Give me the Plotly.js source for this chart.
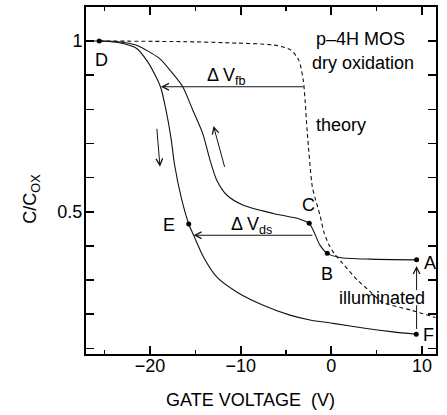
<!DOCTYPE html>
<html>
<head>
<meta charset="utf-8">
<script src="https://cdn.plot.ly/plotly-3.0.1.min.js"></script>
<style>html,body{margin:0;padding:0;background:#fff;}#chart{width:447px;height:415px;}</style>
</head>
<body>
<div id="chart"></div>
<script>
// Down sweep (D -> E -> F), gate voltage (V) and C/Cox
const downV = [-27, -25.6, -23.4, -21.5, -20.25, -19.34, -18.79, -18.24, -17.68, -17.32, -16.58, -15.73, -15.12, -14.12, -12.65, -10.44, -7.52, -4.56, -2.36, 0.21, 3.89, 6.81, 9.36];
const downC = [1.0, 1.0, 0.995, 0.979, 0.939, 0.895, 0.861, 0.798, 0.715, 0.642, 0.544, 0.464, 0.427, 0.368, 0.309, 0.265, 0.226, 0.197, 0.183, 0.173, 0.158, 0.148, 0.141];
// Up sweep (A -> B -> C -> D)
const upV = [9.4, 4.26, 0.95, -0.45, -1.26, -2.0, -2.44, -3.46, -6.41, -9.71, -11.54, -12.65, -13.38, -14.2, -15.29, -16.39, -17.5, -18.97, -21.54, -23.5, -25.6];
const upC = [0.359, 0.361, 0.366, 0.378, 0.402, 0.446, 0.466, 0.478, 0.495, 0.519, 0.549, 0.593, 0.651, 0.73, 0.798, 0.866, 0.905, 0.949, 0.988, 0.998, 1.0];
// Theory curve
const theoryV = [-25.6, -16, -11.8, -6.3, -4.5, -3.6, -3.1, -2.9, -2.65, -2.1, -1.73, -1.26, -0.82, -0.3, 0.3, 1.2, 2.86, 4.2, 5.6, 8.74, 11.5];
const theoryC = [1.0, 0.998, 0.995, 0.988, 0.974, 0.944, 0.886, 0.827, 0.73, 0.573, 0.534, 0.49, 0.44, 0.405, 0.378, 0.35, 0.30, 0.268, 0.235, 0.212, 0.19];
// Marked points A..F
const pointNames = ['A', 'B', 'C', 'D', 'E', 'F'];
const pointV = [9.4, -0.45, -2.44, -25.6, -15.73, 9.36];
const pointC = [0.359, 0.378, 0.466, 1.0, 0.464, 0.141];
// Axis tick settings
const xTickStep = 10, xMinorStep = 5;
const yTickStep = 0.5, yMinorStep = 0.1;

const FONT = 'Liberation Sans, Arial, Helvetica, sans-serif';
const lineStyle = {color: '#111', width: 1.1};

const traces = [
  {x: downV, y: downC, mode: 'lines', line: Object.assign({shape: 'spline', smoothing: 0.7}, lineStyle), hoverinfo: 'skip'},
  {x: upV, y: upC, mode: 'lines', line: Object.assign({shape: 'spline', smoothing: 0.7}, lineStyle), hoverinfo: 'skip'},
  {x: theoryV, y: theoryC, mode: 'lines', line: {color: '#111', width: 1.1, dash: '4px,3px', shape: 'spline', smoothing: 0.7}, hoverinfo: 'skip'},
  {x: pointV, y: pointC, text: pointNames, mode: 'markers', marker: {color: '#000', size: 5}, hoverinfo: 'skip'}
];

function lbl(text, x, y, extra) {
  return Object.assign({text: text, x: x, y: y, xref: 'x', yref: 'y', showarrow: false,
    font: {family: FONT, size: 18, color: '#000'}}, extra || {});
}
function arrow(x, y, ax, ay, head) {
  return {x: x, y: y, ax: ax, ay: ay, xref: 'x', yref: 'y', axref: 'x', ayref: 'y', text: '',
    showarrow: true, arrowhead: head, arrowsize: 1.3, arrowwidth: 1, arrowcolor: '#111'};
}

const annotations = [
  lbl(pointNames[0], 10.93, 0.349),
  lbl(pointNames[1], -0.52, 0.319),
  lbl(pointNames[2], -2.55, 0.519),
  lbl(pointNames[3], -25.4, 0.944),
  lbl(pointNames[4], -17.87, 0.461),
  lbl(pointNames[5], 10.68, 0.139),
  lbl('p\u20134H MOS', 3.26, 1.006),
  lbl('dry oxidation', 3.48, 0.936),
  lbl('theory', -1.92, 0.754, {xanchor: 'left'}),
  lbl('illuminated', 5.63, 0.246),
  lbl('\u0394 V<sub>fb</sub>', -11.57, 0.897),
  lbl('\u0394 V<sub>ds</sub>', -8.79, 0.461),
  arrow(-18.8, 0.866, -2.9, 0.866, 5),
  arrow(-15.2, 0.431, -1.92, 0.431, 5),
  arrow(-18.9, 0.632, -19.26, 0.747, 5),
  arrow(-13.0, 0.751, -11.73, 0.627, 5),
  arrow(9.4, 0.341, 9.4, 0.266, 5),
  arrow(9.4, 0.226, 9.4, 0.152, 0),
  {text: 'GATE VOLTAGE\u00a0\u00a0(V)', xref: 'paper', yref: 'paper', x: 0.47, y: -0.1326,
   xanchor: 'center', yanchor: 'middle', showarrow: false,
   font: {family: FONT, size: 18, color: '#000'}},
  {text: 'C/C<sub>OX</sub>', xref: 'paper', yref: 'paper', x: -0.155, y: 0.447, textangle: -90,
   xanchor: 'center', yanchor: 'middle', showarrow: false,
   font: {family: FONT, size: 18, color: '#000'}}
];

const axisCommon = {
  showline: true, linewidth: 2, linecolor: '#000', mirror: 'ticks', showgrid: false, zeroline: false,
  ticks: 'inside', tickwidth: 2, tickcolor: '#000', fixedrange: true,
  tickfont: {family: FONT, size: 18, color: '#000'}
};

const layout = {
  width: 447, height: 415,
  margin: {l: 86, r: 11, t: 7, b: 61},
  paper_bgcolor: '#fff', plot_bgcolor: '#fff',
  showlegend: false,
  xaxis: Object.assign({}, axisCommon, {range: [-27.06, 11.54], tick0: 0, dtick: xTickStep, ticklen: 8,
    ticklabelstandoff: -6,
    minor: {dtick: xMinorStep, tick0: 0, ticks: 'inside', ticklen: 4, tickwidth: 1.5, tickcolor: '#000'}}),
  yaxis: Object.assign({}, axisCommon, {range: [0.0832, 1.0996], tick0: 0, dtick: yTickStep, ticklen: 8,
    ticklabelstandoff: -2,
    minor: {dtick: yMinorStep, tick0: 0, ticks: 'inside', ticklen: 8, tickwidth: 1.5, tickcolor: '#000'}}),
  annotations: annotations
};

Plotly.newPlot('chart', traces, layout, {staticPlot: true, displayModeBar: false});
</script>
</body>
</html>
